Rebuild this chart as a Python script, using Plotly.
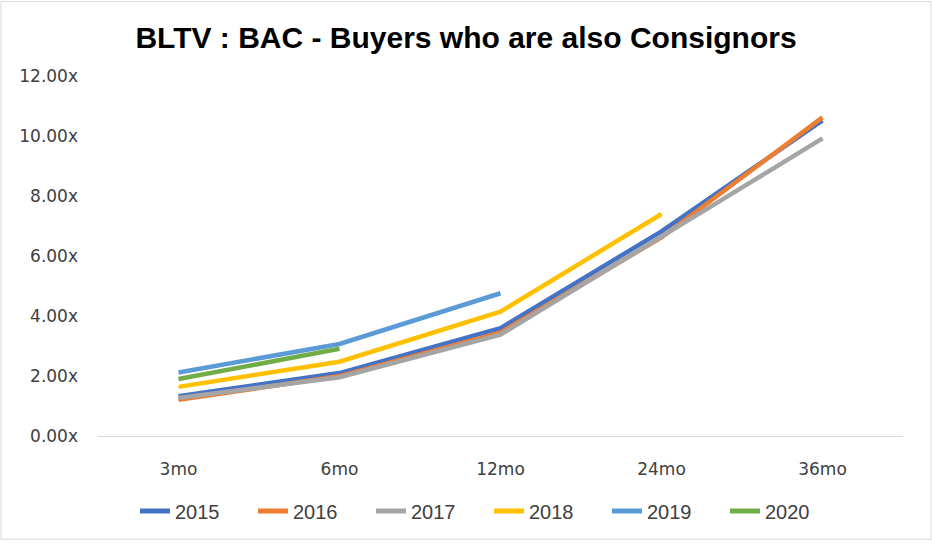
import plotly.graph_objects as go

categories = ["3mo", "6mo", "12mo", "24mo", "36mo"]
s2015 = [1.33, 2.10, 3.60, 6.82, 10.52]
s2016 = [1.21, 2.00, 3.45, 6.62, 10.62]
s2017 = [1.27, 1.96, 3.38, 6.66, 9.92]
s2018 = [1.64, 2.48, 4.15, 7.40, None]
s2019 = [2.12, 3.07, 4.76, None, None]
s2020 = [1.90, 2.91, None, None, None]
series_names = ["2015", "2016", "2017", "2018", "2019", "2020"]
series_values = [s2015, s2016, s2017, s2018, s2019, s2020]
colors = ["#4472C4", "#ED7D31", "#A5A5A5", "#FFC000", "#5B9BD5", "#70AD47"]
y_ticks = [0, 2, 4, 6, 8, 10, 12]
y_tick_labels = ["0.00x", "2.00x", "4.00x", "6.00x", "8.00x", "10.00x", "12.00x"]

fig = go.Figure()
for name, vals, col in zip(series_names, series_values, colors):
    fig.add_trace(go.Scatter(
        x=categories, y=vals, name=name, mode="lines",
        line=dict(color=col, width=4.5),
        connectgaps=False,
    ))

W, H = 932, 544
ml, mr, mt, mb = 98, 29, 76, 105
pw, ph = W - ml - mr, H - mt - mb

fig.update_layout(
    width=W, height=H,
    margin=dict(l=ml, r=mr, t=mt, b=mb),
    paper_bgcolor="white", plot_bgcolor="white",
    title=dict(
        text="<b>BLTV : BAC - Buyers who are also Consignors</b>",
        x=0.5, xref="container", xanchor="center",
        y=1 - 37 / H, yref="container", yanchor="middle",
        font=dict(family="Liberation Sans", size=30, color="black"),
    ),
    showlegend=True,
    legend=dict(
        orientation="h", xref="container", yref="container",
        x=135 / W, xanchor="left", y=1 - 511 / H, yanchor="middle",
        font=dict(family="Liberation Sans", size=20, color="#404040"),
        entrywidth=73, entrywidthmode="pixels",
        itemsizing="constant",
        bgcolor="rgba(0,0,0,0)",
    ),
    xaxis=dict(
        type="category", categoryorder="array", categoryarray=categories,
        range=[-0.5, 4.5],
        showgrid=False, showline=True, linecolor="#D9D9D9", linewidth=1,
        ticks="", zeroline=False,
        ticklabelstandoff=18,
        tickfont=dict(family="DejaVu Sans", size=17, color="#404040"),
    ),
    yaxis=dict(
        range=[0, 12], showgrid=False, zeroline=False, showline=False,
        tickmode="array", tickvals=y_ticks, ticktext=y_tick_labels,
        ticks="", ticklabelstandoff=19,
        tickfont=dict(family="DejaVu Sans", size=17, color="#404040"),
    ),
    shapes=[dict(
        type="rect", xref="paper", yref="paper",
        x0=(1 - ml) / pw, x1=(W - 1 - ml) / pw,
        y0=-(H - 1 - (mt + ph)) / ph, y1=(mt + ph - 1) / ph,
        line=dict(color="#D9D9D9", width=1), fillcolor="rgba(0,0,0,0)",
        layer="below",
    )],
)

fig.write_html(
    "out.html",
    config={"displayModeBar": False},
    post_script="document.body.style.margin='0';document.body.style.overflow='hidden';",
)
